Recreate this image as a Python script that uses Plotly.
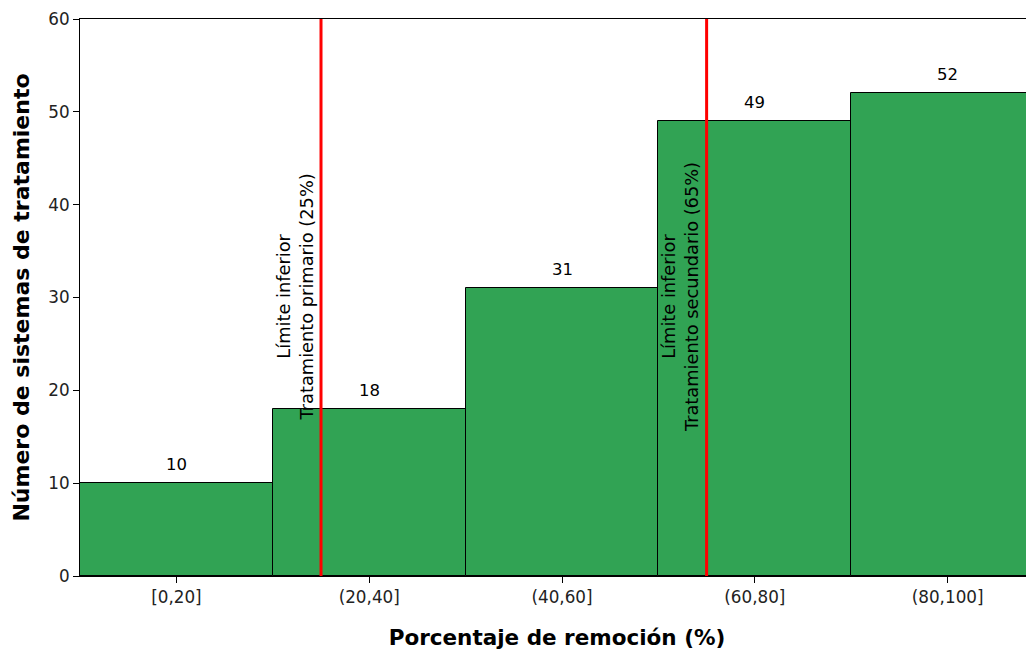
import plotly.graph_objects as go

categories = ["[0,20]", "(20,40]", "(40,60]", "(60,80]", "(80,100]"]
counts = [10, 18, 31, 49, 52]
limit_positions = [0.75, 2.75]  # 25% and 65% in category units
limit_labels = ["Límite inferior<br>Tratamiento primario (25%)",
                "Límite inferior<br>Tratamiento secundario (65%)"]
y_ticks = [0, 10, 20, 30, 40, 50, 60]

FONT = "DejaVu Sans"
x_idx = list(range(len(categories)))

fig = go.Figure()
fig.add_trace(go.Bar(
    x=x_idx, y=counts, width=1,
    marker=dict(color="#31a354", line=dict(color="black", width=1)),
    hoverinfo="skip", showlegend=False,
))

for xi, c in zip(x_idx, counts):
    fig.add_annotation(x=xi, y=c, text=str(c), showarrow=False,
                       xanchor="center", yanchor="bottom", yshift=7,
                       font=dict(family=FONT, size=16.5, color="black"))

for xp, lab in zip(limit_positions, limit_labels):
    fig.add_shape(type="line", xref="x", yref="paper", x0=xp, x1=xp, y0=0, y1=1,
                  line=dict(color="red", width=3), layer="above")
    fig.add_annotation(x=xp, y=30, text=lab, showarrow=False, textangle=-90,
                       xanchor="right", yanchor="middle", xshift=-3, align="center",
                       font=dict(family=FONT, size=17.8, color="black"))

fig.update_layout(
    width=1026, height=642,
    margin=dict(l=72, r=0, t=11, b=74),
    plot_bgcolor="white", paper_bgcolor="white",
    bargap=0,
    font=dict(family=FONT, size=16.5, color="black"),
    xaxis=dict(
        range=[-0.5, 4.448], tickvals=x_idx, ticktext=categories,
        showline=True, linecolor="black", linewidth=1, mirror=True,
        ticks="outside", ticklen=6, tickcolor="black", showgrid=False, zeroline=False,
        tickfont=dict(family=FONT, size=16.8, color="#222"),
        title=dict(text="<b>Porcentaje de remoción (%)</b>", standoff=24,
                   font=dict(family=FONT, size=21.5, color="black")),
    ),
    yaxis=dict(
        range=[0, 60], tickvals=y_ticks,
        showline=True, linecolor="black", linewidth=1, mirror=False,
        ticks="outside", ticklen=6, tickcolor="black", showgrid=False, zeroline=False,
        tickfont=dict(family=FONT, size=16.8, color="#222"),
        title=dict(text="<b>Número de sistemas de tratamiento</b>", standoff=12,
                   font=dict(family=FONT, size=22, color="black")),
    ),
)

fig.write_html("out.html")
